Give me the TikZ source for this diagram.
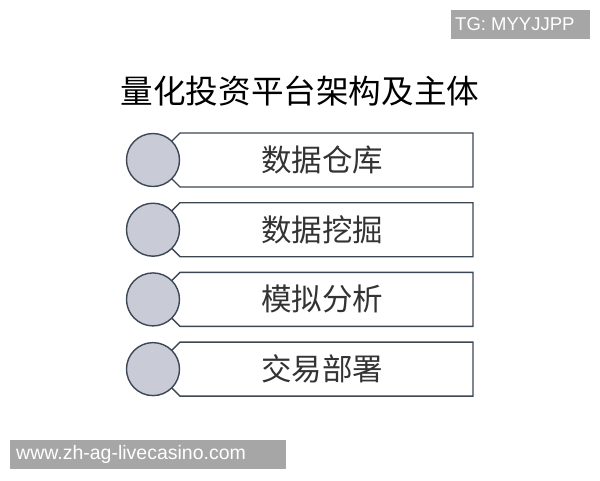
\documentclass[tikz,border=0pt]{standalone}
\usepackage{fontspec}
\setsansfont{Liberation Sans}
\newfontfamily\cjk{Noto Sans CJK SC}
\definecolor{edgeblue}{HTML}{3C4754}
\definecolor{bulbgray}{HTML}{C9CBD7}
\definecolor{stampgray}{HTML}{A6A6A6}
\begin{document}
\begin{tikzpicture}[x=1pt, y=-1pt,
  item/.style={draw=edgeblue, line width=1.4pt, fill=white, line join=miter},
  bullet/.style={draw=edgeblue, line width=1.4pt, fill=bulbgray, circle,
    minimum size=53pt, inner sep=0pt},
  label/.style={text=black!80, inner sep=0pt,
    font=\cjk\fontsize{30.5}{32}\selectfont},
  stamp/.style={text=white, inner sep=0pt, anchor=west,
    font=\sffamily\fontsize{18.5}{20}\selectfont}]
    \useasboundingbox (0,0) rectangle (600,480);

    % Title
    \node[label, text=black, font=\cjk\fontsize{32.6}{34}\selectfont]
      (title) at (300,91) {量化投资平台架构及主体};

    % Items
    \foreach \t [count=\i from 0] in {数据仓库, 数据挖掘, 模拟分析, 交易部署} {
      \path (153, {160+69.7*\i}) coordinate (c\i);
      \draw[item] (c\i) ++(27,-27) -- ++(293,0) -- ++(0,54) -- ++(-293,0)
        -- ++(-15,-15) -- ++(0,-24) -- cycle;
      \node[bullet] (b\i) at (c\i) {};
      \node[label] (t\i) at (322, {160+69.7*\i}) {\t};
    }

    % Watermarks
    \fill[stampgray] (451,10) rectangle (590,39);
    \node[stamp] (tg) at (455,24.5) {TG: MYYJJPP};
    \fill[stampgray] (10,440) rectangle (286,469);
    \node[stamp, font=\sffamily\fontsize{19.5}{21}\selectfont]
      (site) at (16,454.5) {www.zh-ag-livecasino.com};
\end{tikzpicture}
\end{document}
